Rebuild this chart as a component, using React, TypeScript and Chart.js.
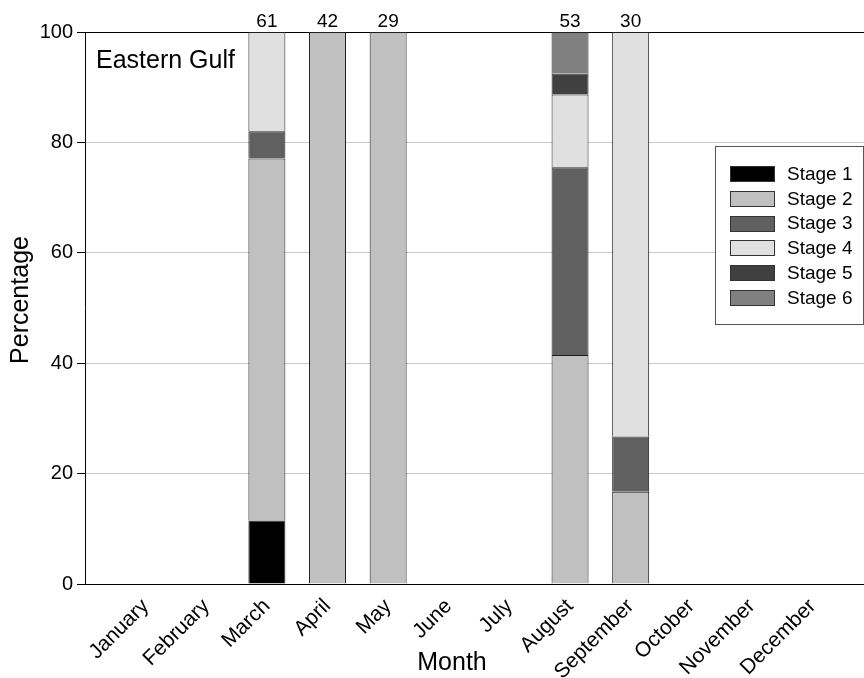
import React, { useEffect, useRef } from "react";
import { Chart, registerables } from "chart.js";

Chart.register(...registerables);

const months = ["January","February","March","April","May","June","July","August","September","October","November","December"];
const stageLabels = ["Stage 1","Stage 2","Stage 3","Stage 4","Stage 5","Stage 6"];
const stageColors = ["#000000","#c0c0c0","#606060","#e0e0e0","#404040","#808080"];
const stage1 = [null,null,11.5,null,null,null,null,null,null,null,null,null];
const stage2 = [null,null,65.6,100,100,null,null,41.5,16.7,null,null,null];
const stage3 = [null,null,4.9,null,null,null,null,34.0,10.0,null,null,null];
const stage4 = [null,null,18.0,null,null,null,null,13.2,73.3,null,null,null];
const stage5 = [null,null,null,null,null,null,null,3.8,null,null,null,null];
const stage6 = [null,null,null,null,null,null,null,7.5,null,null,null,null];
const counts = [null,null,61,42,29,null,null,53,30,null,null,null];
const yTicks = [0,20,40,60,80,100];

const FONT = "Arial, 'Liberation Sans', sans-serif";

export default function App() {
  const ref = useRef<HTMLCanvasElement>(null);
  useEffect(() => {
    const series = [stage1, stage2, stage3, stage4, stage5, stage6];
    const datasets = series.map((s, i) => ({
      label: stageLabels[i],
      data: s.map((v, j) => (v == null ? null : { x: j + 1, y: v })).filter((d) => d != null),
      backgroundColor: stageColors[i],
      borderColor: "#1e1e1e",
      borderWidth: 1,
      barPercentage: 0.61,
      categoryPercentage: 1,
    }));

    const overlay = {
      id: "overlay",
      afterDraw(chart: any) {
        const ctx = chart.ctx;
        const xs = chart.scales.x;
        ctx.save();
        ctx.fillStyle = "#000";
        ctx.font = `19px ${FONT}`;
        ctx.textAlign = "center";
        ctx.textBaseline = "alphabetic";
        counts.forEach((c, j) => {
          if (c == null) return;
          ctx.fillText(String(c), xs.getPixelForValue(j + 1), 27);
        });
        ctx.font = `25px ${FONT}`;
        ctx.textAlign = "left";
        ctx.fillText("Eastern Gulf", 96, 68);
        ctx.textAlign = "center";
        ctx.textBaseline = "middle";
        ctx.fillText("Month", 452, 663);
        ctx.save();
        ctx.translate(21, 300);
        ctx.rotate(-Math.PI / 2);
        ctx.fillText("Percentage", 0, 0);
        ctx.restore();
        const lx = 715.5, ly = 146.5, lw = 148, lh = 178;
        ctx.fillStyle = "#fff";
        ctx.fillRect(lx, ly, lw, lh);
        ctx.strokeStyle = "#555";
        ctx.lineWidth = 1;
        ctx.strokeRect(lx, ly, lw, lh);
        ctx.font = `19px ${FONT}`;
        ctx.textAlign = "left";
        ctx.textBaseline = "middle";
        stageLabels.forEach((lab, i) => {
          const y = 166 + 24.8 * i;
          ctx.fillStyle = stageColors[i];
          ctx.fillRect(730, Math.round(y), 45, 16);
          ctx.strokeStyle = "#333";
          ctx.strokeRect(730.5, Math.round(y) + 0.5, 44, 15);
          ctx.fillStyle = "#000";
          ctx.fillText(lab, 787, y + 8.5);
        });
        ctx.restore();
      },
    };

    const chart = new Chart(ref.current as HTMLCanvasElement, {
      type: "bar",
      data: { datasets: datasets as any },
      plugins: [overlay],
      options: {
        animation: false,
        responsive: false,
        maintainAspectRatio: false,
        layout: { padding: { top: 32, left: 0, right: 0, bottom: 0 } },
        plugins: { legend: { display: false }, tooltip: { enabled: false } },
        scales: {
          x: {
            type: "linear",
            offset: false,
            stacked: true,
            min: 0,
            max: (864 - 85) / 60.63,
            afterFit(scale: any) {
              scale.height = 94;
              scale.paddingLeft = 0;
              scale.paddingRight = 0;
            },
            grid: { display: false, offset: false },
            border: { display: true, color: "#000", width: 1 },
            ticks: {
              stepSize: 1,
              autoSkip: false,
              includeBounds: false,
              minRotation: 45,
              maxRotation: 45,
              padding: 2,
              color: "#000",
              font: { family: FONT, size: 21 },
              callback: (v: any) => (Number.isInteger(v) && v >= 1 && v <= 12 ? months[v - 1] : ""),
            },
          },
          y: {
            stacked: true,
            min: 0,
            max: 100,
            afterFit(scale: any) {
              scale.width = 85;
              scale.paddingTop = 0;
              scale.paddingBottom = 0;
            },
            afterBuildTicks(scale: any) {
              scale.ticks = yTicks.map((v) => ({ value: v }));
            },
            grid: {
              color: (c: any) => (c.tick && c.tick.value === 100 ? "#000" : "#c8c8c8"),
              tickColor: "#000",
              tickLength: 8,
              lineWidth: 1,
            },
            border: { display: true, color: "#000", width: 1 },
            ticks: {
              padding: 4,
              color: "#000",
              font: { family: FONT, size: 20 },
            },
          },
        },
      } as any,
    });
    return () => chart.destroy();
  }, []);

  return (
    <div style={{ position: "fixed", left: 0, top: 0, width: 864, height: 678, background: "#fff" }}>
      <canvas ref={ref} width={864} height={678} style={{ width: 864, height: 678 }} />
    </div>
  );
}
